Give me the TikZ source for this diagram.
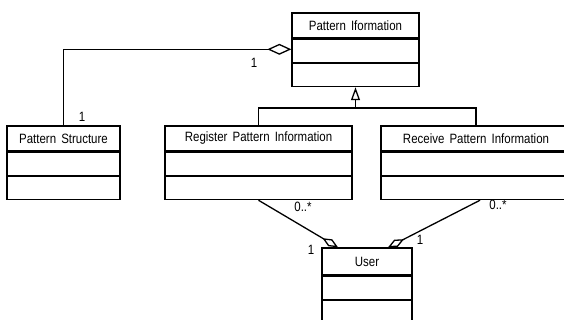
\documentclass[tikz,border=0pt]{standalone}
\usepackage{fontspec}
\setmainfont{Liberation Sans}[FakeStretch=0.85,WordSpace=1.6]
\usetikzlibrary{arrows.meta,positioning}

\tikzset{
  classhead/.style={draw, line width=1.3pt, minimum height=25pt, inner sep=0pt,
                    font=\fontsize{13.5}{15}\selectfont},
  classpart/.style={draw, line width=1.3pt, minimum height=23pt, inner sep=0pt},
  mult/.style={inner sep=0pt, font=\fontsize{13.5}{15}\selectfont},
  aggr/.style={line width=1.3pt, -{Diamond[open,length=24pt,width=11pt]}},
  assoc/.style={line width=1.3pt, -{Diamond[open,length=18pt,width=8pt]}},
  gener/.style={line width=1.3pt, -{Triangle[open,length=13pt,width=9pt]}}
}

\begin{document}
\begin{tikzpicture}[x=1pt,y=-1pt]
%    \draw[black,thin] (0,0) grid[step=20] (564,320);
    \useasboundingbox (0,0) rectangle (564,320);
    \clip (0,0) rectangle (564,320);

    % Pattern Information
    \node[classhead, minimum width=127pt] (pi) at (355.5,25.5) {Pattern Iformation};
    \node[classpart, minimum width=127pt, below=0pt of pi] (pi-a) {};
    \node[classpart, minimum width=127pt, below=0pt of pi-a] (pi-b) {};

    % Pattern Structure
    \node[classhead, minimum width=113pt] (ps) at (63.5,138.5) {Pattern Structure};
    \node[classpart, minimum width=113pt, below=0pt of ps] (ps-a) {};
    \node[classpart, minimum width=113pt, below=0pt of ps-a] (ps-b) {};

    % Register / Receive
    \node[classhead, minimum width=187pt] (reg) at (258.5,138.5) {Register Pattern Information};
    \node[classpart, minimum width=187pt, below=0pt of reg] (reg-a) {};
    \node[classpart, minimum width=187pt, below=0pt of reg-a] (reg-b) {};

    \node[classhead, minimum width=190pt] (rcv) at (476,138.5) {Receive Pattern Information};
    \node[classpart, minimum width=190pt, below=0pt of rcv] (rcv-a) {};
    \node[classpart, minimum width=190pt, below=0pt of rcv-a] (rcv-b) {};

    % User
    \node[classhead, minimum width=90pt, minimum height=27pt] (usr) at (367,261.5) {User};
    \node[classpart, minimum width=90pt, below=0pt of usr] (usr-a) {};
    \node[classpart, minimum width=90pt, below=0pt of usr-a] (usr-b) {};


    % aggregation
    \draw[aggr] (ps.north) |- ([yshift=1.5pt]pi-a.west);
    \node[mult] (m-pi) at (254,63)  {1};
    \node[mult] (m-ps) at (82,117)  {1};

    % generalization
    \coordinate (gen) at (pi-b.south |- 0,108);
    \draw[line width=1.3pt] (reg.north) |- (gen) -| (rcv.north);
    \draw[gener] (gen) -- (pi-b.south);

    % associations with User
    \draw[assoc] (reg-b.south) -- ([xshift=-29pt]usr.north);
    \draw[assoc] ([xshift=4pt]rcv-b.south) -- ([xshift=21pt]usr.north);
    \node[mult] (m-reg) at (303,207) {0..*};
    \node[mult] (m-rcv) at (498,205) {0..*};
    \node[mult] (m-ul)  at (311,250) {1};
    \node[mult] (m-ur)  at (420,240) {1};

\end{tikzpicture}
\end{document}
